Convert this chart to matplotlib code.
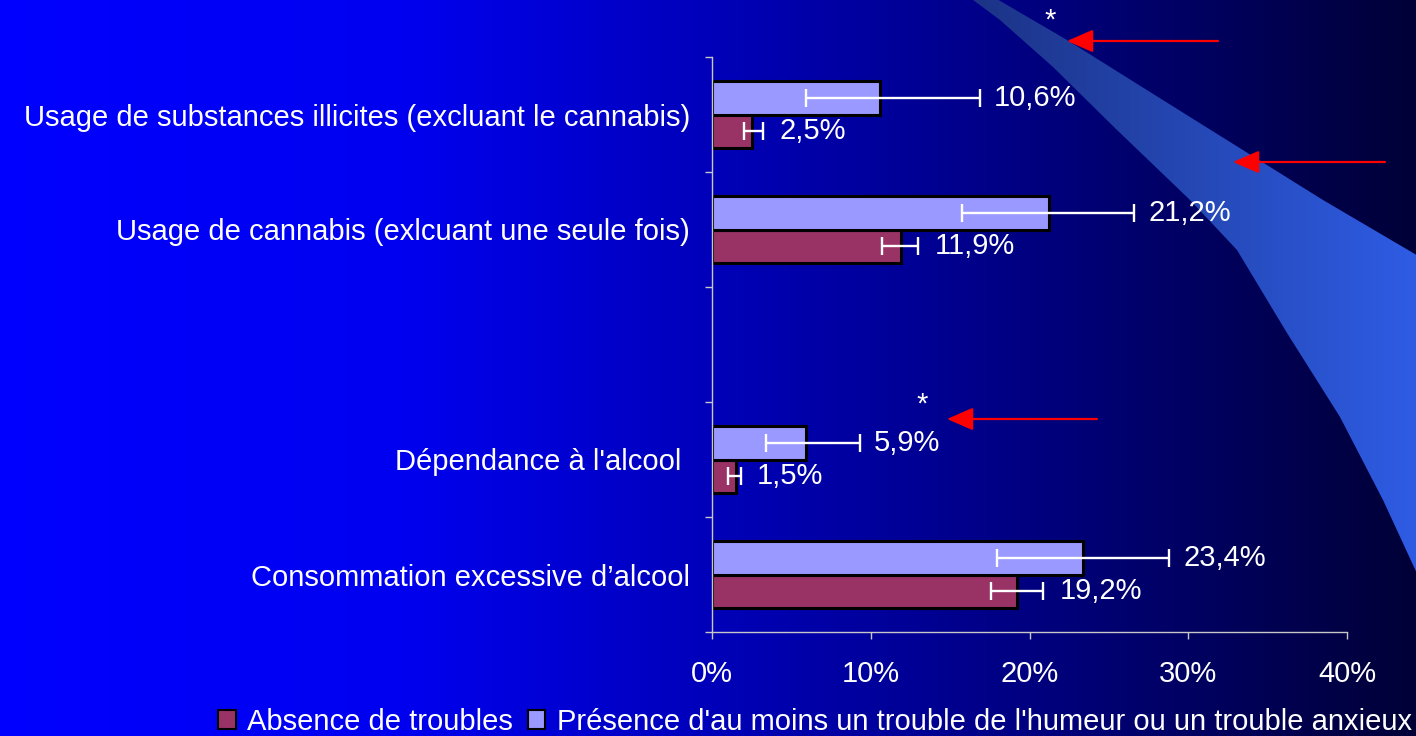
import numpy as np
import matplotlib
matplotlib.use("Agg")
import matplotlib.pyplot as plt
from matplotlib.patches import Polygon, Patch, FancyArrowPatch

plt.rcParams['font.family'] = ['Liberation Sans', 'DejaVu Sans']

# ---------------- data ----------------
categories = ["Consommation excessive d\u2019alcool", "D\u00e9pendance \u00e0 l'alcool ",
              "Usage de cannabis (exlcuant une seule fois)",
              "Usage de substances illicites (excluant le cannabis)"]
cat_pos = [0.5, 1.5, 3.5, 4.5]
series_names = ["Absence de troubles",
                "Pr\u00e9sence d'au moins un trouble de l'humeur ou un trouble anxieux"]
absence = [19.2, 1.5, 11.9, 2.5]
absence_lo = [17.6, 1.0, 10.7, 2.0]
absence_hi = [20.85, 1.8, 13.0, 3.2]
presence = [23.4, 5.9, 21.2, 10.6]
presence_lo = [17.95, 3.4, 15.75, 5.9]
presence_hi = [28.8, 9.3, 26.6, 16.9]
absence_labels = ["19,2%", "1,5%", "11,9%", "2,5%"]
presence_labels = ["23,4%", "5,9%", "21,2%", "10,6%"]
xticks = [0, 10, 20, 30, 40]
xtick_labels = ["0%", "10%", "20%", "30%", "40%"]

FS = 21
W, H = 1416, 736
fig = plt.figure(figsize=(W / 100, H / 100), dpi=100)

# ---------------- background ----------------
bg = fig.add_axes([0, 0, 1, 1])
bg.set_zorder(-1)
bg.axis('off')
xs = np.arange(W)
stops_x = [0, 400, 800, 1100, 1416]
stops_b = [255, 240, 170, 115, 55]
bvals = np.interp(xs, stops_x, stops_b) / 255.0
grad = np.zeros((2, W, 3))
grad[:, :, 2] = bvals
bg.imshow(grad, extent=[0, W, H, 0], aspect='auto', interpolation='bilinear')

# swoosh (decorative shape, pixel coords)
left_edge = [(966, -5), (973, 0), (1000, 20), (1053, 67), (1117, 130), (1190, 200),
             (1237, 250), (1287, 333), (1340, 417), (1383, 500), (1420, 580)]
right_edge = [(1420, 257), (1323, 200), (1190, 117), (1067, 40), (990, -5)]
poly = Polygon(left_edge + right_edge, closed=True, facecolor='none', edgecolor='none')
bg.add_patch(poly)
sx = np.arange(W)
c0 = np.array([28, 52, 135]) / 255.0
c1 = np.array([46, 92, 228]) / 255.0
t = np.clip((sx - 975) / (1416 - 975), 0, 1)[:, None]
sw = (c0 * (1 - t) + c1 * t)[None, :, :].repeat(2, axis=0)
im = bg.imshow(sw, extent=[0, W, H, 0], aspect='auto', interpolation='bilinear')
im.set_clip_path(poly)
bg.set_xlim(0, W)
bg.set_ylim(H, 0)

# arrows & asterisks (decorations, pixel coords)
for (x0, x1, y) in [(1218, 1067, 41), (1385, 1233, 162), (1097, 947, 419)]:
    bg.add_patch(FancyArrowPatch((x0, y), (x1, y), arrowstyle='-|>,head_length=1.15,head_width=0.5',
                                 mutation_scale=14, color='#FF0000', lw=1.6,
                                 shrinkA=0, shrinkB=0, zorder=5))
for (x, y) in [(1050, 29), (922, 413)]:
    bg.text(x, y, "*", color='white', fontsize=FS, ha='center', va='baseline')

# ---------------- main axes ----------------
ax = fig.add_axes([712 / W, 1 - 632 / H, (1347 - 712) / W, (632 - 57) / H])
ax.set_facecolor('none')
h = 0.29
yp = np.array(cat_pos)
red = '#993366'
blu = '#9999FF'
ax.barh(yp - h / 2, absence, height=h, color=red, edgecolor='black', linewidth=2.2, zorder=2)
ax.barh(yp + h / 2, presence, height=h, color=blu, edgecolor='black', linewidth=2.2, zorder=2)
ax.errorbar(absence, yp - h / 2,
            xerr=[np.array(absence) - np.array(absence_lo), np.array(absence_hi) - np.array(absence)],
            fmt='none', ecolor='white', elinewidth=1.7, capsize=6.5, capthick=1.7, zorder=3)
ax.errorbar(presence, yp + h / 2,
            xerr=[np.array(presence) - np.array(presence_lo), np.array(presence_hi) - np.array(presence)],
            fmt='none', ecolor='white', elinewidth=1.7, capsize=6.5, capthick=1.7, zorder=3)
for x, y, s in zip(absence_hi, yp - h / 2, absence_labels):
    ax.annotate(s, (x, y), xytext=(12, 0), textcoords='offset points', color='white',
                fontsize=FS, ha='left', va='center', zorder=4)
for x, y, s in zip(presence_hi, yp + h / 2, presence_labels):
    ax.annotate(s, (x, y), xytext=(10, 0), textcoords='offset points', color='white',
                fontsize=FS, ha='left', va='center', zorder=4)

ax.set_xlim(0, 40)
ax.set_ylim(0, 5)
ax.set_xticks(xticks)
ax.set_xticklabels(xtick_labels)
ax.set_yticks(cat_pos)
ax.set_yticklabels(categories)
ax.set_yticks(np.arange(0, 6), minor=True)
ax.tick_params(axis='y', which='major', length=0, pad=16, labelsize=FS, labelcolor='white')
ax.tick_params(axis='y', which='minor', length=5, width=1, color='#C8C8C8', direction='out')
ax.tick_params(axis='x', length=5, width=1, color='#C8C8C8', direction='out', pad=15,
               labelsize=FS, labelcolor='white')
for side in ['top', 'right']:
    ax.spines[side].set_visible(False)
for side in ['left', 'bottom']:
    ax.spines[side].set_color('#C8C8C8')
    ax.spines[side].set_linewidth(1)

handles = [Patch(facecolor=red, edgecolor='black', linewidth=1.5),
           Patch(facecolor=blu, edgecolor='black', linewidth=1.5)]
leg = fig.legend(handles, series_names, loc='center right', bbox_to_anchor=(1412 / W, 1 - 722 / H),
                 ncol=2, frameon=False, fontsize=FS, handlelength=0.6, handleheight=0.6,
                 handletextpad=0.4, columnspacing=0.5, borderpad=0, borderaxespad=0)
for txt in leg.get_texts():
    txt.set_color('white')

fig.savefig('out.png', dpi=100)
